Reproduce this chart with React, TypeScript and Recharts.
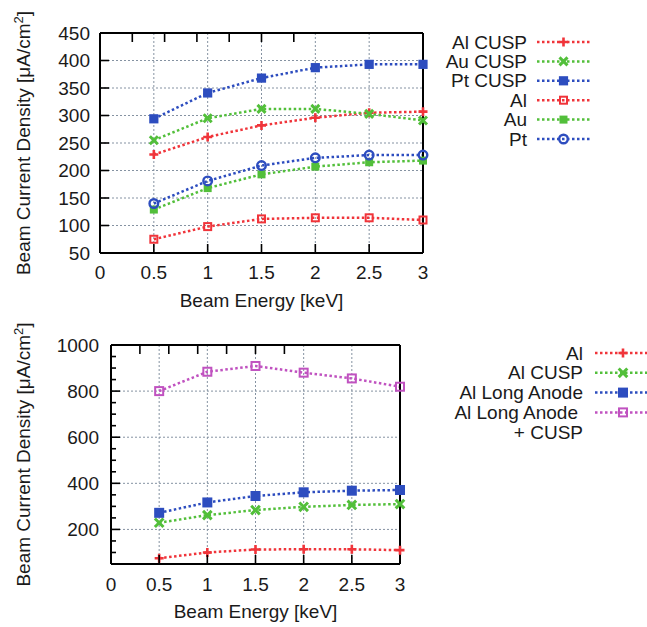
import { LineChart, Line, XAxis, YAxis, CartesianGrid, ReferenceLine } from "recharts";

const FONT = '"Liberation Sans", Arial, Helvetica, sans-serif';
const TEXT = "#1a1a1a";
const RED = "#f0343a";
const GREEN = "#52bf3a";
const BLUE = "#2d4dbf";
const MAGENTA = "#c052c0";
const GRID = "#8592a2";

// beam energy [keV]
const energies = [0.5, 1, 1.5, 2, 2.5, 3];
const xTicks = [0, 0.5, 1, 1.5, 2, 2.5, 3];

// upper panel, beam current density [uA/cm2]
const alCusp = [229, 261, 282, 296, 305, 307];
const auCusp = [255, 295, 312, 312, 303, 291];
const ptCusp = [294, 341, 368, 387, 393, 393];
const al = [75, 98, 112, 114, 114, 110];
const au = [129, 168, 193, 207, 215, 218];
const pt = [140, 181, 209, 223, 228, 228];
const topTicks = [50, 100, 150, 200, 250, 300, 350, 400, 450];

// lower panel
const alLow = [75, 100, 113, 114, 114, 110];
const alCuspLow = [229, 262, 284, 298, 306, 310];
const longAnode = [272, 317, 345, 361, 368, 371];
const longAnodeCusp = [800, 884, 909, 880, 855, 819];
const lowTicks = [50, 100, 150, 200, 250, 300, 350, 400, 450, 500, 550, 600, 650, 700, 750, 800, 850, 900, 950, 1000];
const lowGrid = [200, 400, 600, 800];

type Kind = "plus" | "cross" | "fsq" | "osq" | "circle";

interface Series {
  key: string;
  name: string[];
  color: string;
  kind: Kind;
  size: number;
}

const topSeries: Series[] = [
  { key: "alCusp", name: ["Al CUSP"], color: RED, kind: "plus", size: 4.5 },
  { key: "auCusp", name: ["Au CUSP"], color: GREEN, kind: "cross", size: 4 },
  { key: "ptCusp", name: ["Pt CUSP"], color: BLUE, kind: "fsq", size: 4.6 },
  { key: "al", name: ["Al"], color: RED, kind: "osq", size: 4.5 },
  { key: "au", name: ["Au"], color: GREEN, kind: "fsq", size: 4 },
  { key: "pt", name: ["Pt"], color: BLUE, kind: "circle", size: 4.3 },
];

const lowSeries: Series[] = [
  { key: "al", name: ["Al"], color: RED, kind: "plus", size: 4.5 },
  { key: "alCusp", name: ["Al CUSP"], color: GREEN, kind: "cross", size: 4.3 },
  { key: "longAnode", name: ["Al Long Anode"], color: BLUE, kind: "fsq", size: 5 },
  { key: "longAnodeCusp", name: ["Al Long Anode", "+ CUSP"], color: MAGENTA, kind: "osq", size: 5 },
];

const topData = energies.map((e, i) => ({
  e,
  alCusp: alCusp[i],
  auCusp: auCusp[i],
  ptCusp: ptCusp[i],
  al: al[i],
  au: au[i],
  pt: pt[i],
}));

const lowData = energies.map((e, i) => ({
  e,
  al: alLow[i],
  alCusp: alCuspLow[i],
  longAnode: longAnode[i],
  longAnodeCusp: longAnodeCusp[i],
}));

function Marker({ kind, cx, cy, color, s }: { kind: Kind; cx: number; cy: number; color: string; s: number }) {
  switch (kind) {
    case "plus":
      return <path d={`M${cx - s} ${cy}H${cx + s}M${cx} ${cy - s}V${cy + s}`} stroke={color} strokeWidth={2.6} fill="none" />;
    case "cross":
      return (
        <path
          d={`M${cx - s} ${cy - s}L${cx + s} ${cy + s}M${cx - s} ${cy + s}L${cx + s} ${cy - s}`}
          stroke={color}
          strokeWidth={3}
          fill="none"
        />
      );
    case "fsq":
      return <rect x={cx - s} y={cy - s} width={2 * s} height={2 * s} fill={color} />;
    case "osq":
      return <rect x={cx - s + 1} y={cy - s + 1} width={2 * s - 2} height={2 * s - 2} fill="none" stroke={color} strokeWidth={2} />;
    default:
      return <circle cx={cx} cy={cy} r={s} fill="none" stroke={color} strokeWidth={2.4} />;
  }
}

function dotFor(s: Series) {
  return (p: any) => {
    if (p.cx == null || p.cy == null) return <g key={p.index} />;
    return (
      <g key={p.index}>
        <Marker kind={s.kind} cx={p.cx} cy={p.cy} color={s.color} s={s.size} />
      </g>
    );
  };
}

// ticks point into the plot, labels sit outside
function leftTick(gap: number, isMajor: (v: number) => boolean) {
  return (p: any) => {
    const v = p.payload.value;
    const ax = p.x + gap;
    const major = isMajor(v);
    return (
      <g>
        <line x1={ax} x2={ax + (major ? 9 : 5)} y1={p.y} y2={p.y} stroke="#000" strokeWidth={1.6} />
        {major && (
          <text x={p.x} y={p.y} dy="0.35em" textAnchor="end" fontSize={19} fill={TEXT} fontFamily={FONT}>
            {v}
          </text>
        )}
      </g>
    );
  };
}

function rightTick(isMajor: (v: number) => boolean) {
  return (p: any) => {
    const major = isMajor(p.payload.value);
    return <line x1={p.x} x2={p.x - (major ? 9 : 5)} y1={p.y} y2={p.y} stroke="#000" strokeWidth={1.6} />;
  };
}

function bottomTick(gap: number) {
  return (p: any) => {
    const ay = p.y - gap;
    return (
      <g>
        <line x1={p.x} x2={p.x} y1={ay} y2={ay - 9} stroke="#000" strokeWidth={1.6} />
        <text x={p.x} y={p.y} dy="0.35em" textAnchor="middle" fontSize={19} fill={TEXT} fontFamily={FONT}>
          {p.payload.value}
        </text>
      </g>
    );
  };
}

function topTick(p: any) {
  return <line x1={p.x} x2={p.x} y1={p.y} y2={p.y + 9} stroke="#000" strokeWidth={1.6} />;
}

function yLabel(cx: number) {
  return (props: any) => {
    const vb = props.viewBox || { x: 0, y: 0, width: 0, height: 0 };
    const cy = vb.y + vb.height / 2;
    return (
      <text
        transform={`translate(${cx},${cy}) rotate(-90)`}
        textAnchor="middle"
        dy="0.35em"
        fontSize={19}
        fill={TEXT}
        fontFamily={FONT}
      >
        Beam Current Density [μA/cm
        <tspan dy={-7} fontSize={13}>
          2
        </tspan>
        <tspan dy={7}>]</tspan>
      </text>
    );
  };
}

function xLabel(props: any) {
  const vb = props.viewBox || { x: 0, y: 0, width: 0, height: 0 };
  return (
    <text x={vb.x + vb.width / 2} y={vb.y + 54} textAnchor="middle" fontSize={19} fill={TEXT} fontFamily={FONT}>
      Beam Energy [keV]
    </text>
  );
}

function LegendBlock({ series, textRight, lineX1, lineX2, top, step }: {
  series: Series[];
  textRight: number;
  lineX1: number;
  lineX2: number;
  top: number;
  step: number;
}) {
  const mid = (lineX1 + lineX2) / 2;
  return (
    <g>
      {series.map((s, i) => {
        const y = top + i * step;
        return (
          <g key={s.key}>
            {s.name.map((ln, j) => (
              <text
                key={j}
                x={textRight - (s.name.length > 1 && j === 0 ? 5 : 0)}
                y={y + j * step}
                dy="0.35em"
                textAnchor="end"
                fontSize={19}
                fill={TEXT}
                fontFamily={FONT}
              >
                {ln}
              </text>
            ))}
            <line x1={lineX1} x2={lineX2} y1={y} y2={y} stroke={s.color} strokeWidth={2.5} strokeDasharray="2.5 2.5" />
            <Marker kind={s.kind} cx={mid} cy={y} color={s.color} s={s.size} />
          </g>
        );
      })}
    </g>
  );
}

export default function App() {
  const frame = { stroke: "#000", strokeWidth: 2 };
  return (
    <div style={{ position: "absolute", left: 0, top: 0, width: 647, height: 627, overflow: "hidden", background: "#fff" }}>
      <div style={{ position: "absolute", left: 0, top: 0 }}>
        <LineChart width={647} height={320} data={topData} margin={{ top: 32, right: 223, bottom: 7, left: 0 }}>
          <CartesianGrid stroke={GRID} strokeDasharray="2 2" />
          <XAxis
            dataKey="e"
            type="number"
            domain={[0, 3]}
            ticks={xTicks}
            interval={0}
            height={60}
            tickSize={0}
            tickMargin={19}
            axisLine={frame}
            tick={bottomTick(19)}
            label={{ content: xLabel }}
          />
          <XAxis xAxisId="t" orientation="top" type="number" domain={[0, 3]} ticks={xTicks} interval={0} height={1} tickSize={0} tickMargin={0} axisLine={frame} tick={topTick} />
          <YAxis
            type="number"
            domain={[50, 450]}
            ticks={topTicks}
            interval={0}
            width={100}
            tickSize={0}
            tickMargin={10}
            axisLine={frame}
            tick={leftTick(10, () => true)}
            label={{ content: yLabel(23) }}
          />
          <YAxis yAxisId="r" orientation="right" type="number" domain={[50, 450]} ticks={topTicks} interval={0} width={1} tickSize={0} tickMargin={0} axisLine={frame} tick={rightTick(() => true)} />
          {topSeries.map((s) => (
            <Line
              key={s.key}
              dataKey={s.key}
              name={s.name.join(" ")}
              type="linear"
              stroke={s.color}
              strokeWidth={2.5}
              strokeDasharray="2.5 2.5"
              dot={dotFor(s)}
              activeDot={false}
              isAnimationActive={false}
            />
          ))}
        </LineChart>
      </div>

      <div style={{ position: "absolute", left: 0, top: 320 }}>
        <LineChart width={647} height={307} data={lowData} margin={{ top: 24, right: 246, bottom: 3, left: 0 }}>
          <CartesianGrid stroke={GRID} strokeDasharray="2 2" horizontal={false} />
          {lowGrid.map((v) => (
            <ReferenceLine key={v} y={v} stroke={GRID} strokeDasharray="2 2" />
          ))}
          <XAxis
            dataKey="e"
            type="number"
            domain={[0, 3]}
            ticks={xTicks}
            interval={0}
            height={60}
            tickSize={0}
            tickMargin={20}
            axisLine={frame}
            tick={bottomTick(20)}
            label={{ content: xLabel }}
          />
          <XAxis xAxisId="t" orientation="top" type="number" domain={[0, 3]} ticks={xTicks} interval={0} height={1} tickSize={0} tickMargin={0} axisLine={frame} tick={topTick} />
          <YAxis
            type="number"
            domain={[50, 1000]}
            ticks={lowTicks}
            interval={0}
            width={111}
            tickSize={0}
            tickMargin={12}
            axisLine={frame}
            tick={leftTick(12, (v) => v % 200 === 0)}
            label={{ content: yLabel(23) }}
          />
          <YAxis yAxisId="r" orientation="right" type="number" domain={[50, 1000]} ticks={lowTicks} interval={0} width={1} tickSize={0} tickMargin={0} axisLine={frame} tick={rightTick((v) => v % 200 === 0)} />
          {lowSeries.map((s) => (
            <Line
              key={s.key}
              dataKey={s.key}
              name={s.name.join(" ")}
              type="linear"
              stroke={s.color}
              strokeWidth={2.5}
              strokeDasharray="2.5 2.5"
              dot={dotFor(s)}
              activeDot={false}
              isAnimationActive={false}
            />
          ))}
        </LineChart>
      </div>

      <svg width={647} height={627} style={{ position: "absolute", left: 0, top: 0, pointerEvents: "none" }}>
        <LegendBlock series={topSeries} textRight={527} lineX1={537} lineX2={590} top={42} step={19.4} />
        <LegendBlock series={lowSeries} textRight={583} lineX1={595} lineX2={651} top={353} step={19.8} />
      </svg>
    </div>
  );
}
